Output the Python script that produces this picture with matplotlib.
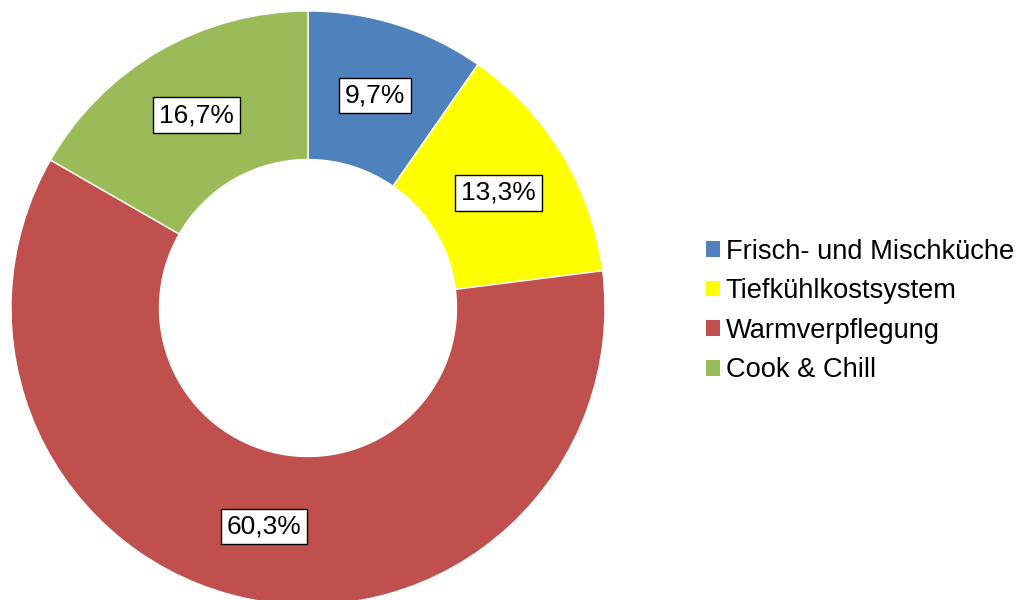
import matplotlib.pyplot as plt
from matplotlib.patches import Patch

plt.rcParams['font.family'] = ['Liberation Sans', 'DejaVu Sans']

categories = ["Frisch- und Mischküche", "Tiefkühlkostsystem", "Warmverpflegung", "Cook & Chill"]
values = [9.7, 13.3, 60.3, 16.7]
labels = ["9,7%", "13,3%", "60,3%", "16,7%"]
colors = ["#4F81BD", "#FFFF00", "#C0504D", "#9BBB59"]

fig = plt.figure(figsize=(10.16, 6.0), dpi=100)
# pie area in pixel: center (308, 308), radius 297
cx, cy, r = 308, 308, 297
ax = fig.add_axes([(cx - r) / 1016, (600 - cy - r) / 600, 2 * r / 1016, 2 * r / 600])

wedges, texts = ax.pie(values, colors=colors, startangle=90, counterclock=False,
                       radius=1.0, labels=labels, labeldistance=0.75,
                       wedgeprops=dict(width=0.5, edgecolor="white", linewidth=1))
for t in texts:
    t.set_fontsize(19)
    t.set_ha("center")
    t.set_va("center")
    t.set_bbox(dict(boxstyle="square,pad=0.22", facecolor="white", edgecolor="black", linewidth=1))
ax.set_xlim(-1, 1)
ax.set_ylim(-1, 1)
ax.set_aspect("equal")

handles = [Patch(facecolor=c, edgecolor="none") for c in colors]
fig.legend(handles, categories, loc="center left", bbox_to_anchor=(706 / 1016, 1 - 311 / 600),
           frameon=False, fontsize=19.6, handlelength=0.5, handleheight=0.5,
           handletextpad=0.22, labelspacing=0.5, borderaxespad=0, borderpad=0)

fig.savefig("out.png", dpi=100)
